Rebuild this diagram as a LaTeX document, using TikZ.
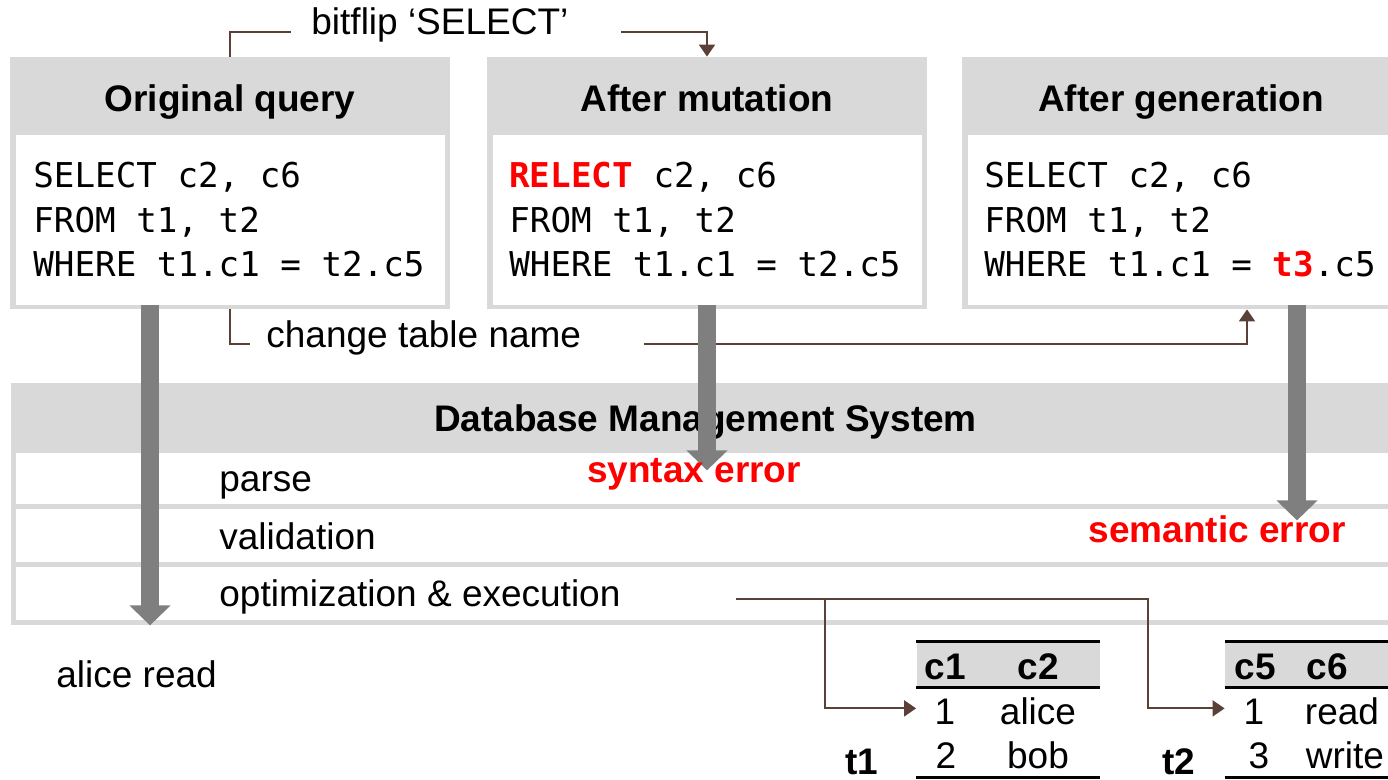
\documentclass[tikz,border=0pt]{standalone}
\usepackage{fontspec}
\setmainfont{Liberation Sans}
\setmonofont{DejaVu Sans Mono}
\usepackage{xcolor}
\usepackage{tikz}
\usetikzlibrary{arrows.meta}
\usetikzlibrary{positioning}
\definecolor{boxgray}{HTML}{D9D9D9}
\definecolor{arrowgray}{HTML}{7F7F7F}
\definecolor{linkbrown}{HTML}{5B4037}
\definecolor{errred}{HTML}{FF0000}
\newcommand{\basefont}{\fontsize{18.5}{22}\selectfont}
\newcommand{\sqlfont}{\fontsize{17.1}{22.25}\selectfont\ttfamily}
\newcommand{\redsql}[1]{{\color{errred}\bfseries #1}}

\begin{document}
\begin{tikzpicture}[
x=0.5pt, y=-0.5pt,
every node/.style={font=\basefont, inner sep=0pt},
QueryFrame/.style={fill=boxgray, minimum width=220pt, minimum height=126pt},
QueryBody/.style={fill=white, minimum width=214.5pt, minimum height=85pt},
DbmsFrame/.style={fill=boxgray, minimum width=694.5pt, minimum height=121pt},
StageRow/.style={fill=white, minimum width=689.5pt},
Heading/.style={font=\basefont\bfseries, anchor=base},
SqlText/.style={font=\sqlfont, anchor=base west, align=left},
Label/.style={anchor=base west},
Link/.style={draw=linkbrown, line width=1pt},
LinkArrow/.style={Link, -{Triangle[length=6pt, width=8pt]}},
FatArrow/.style={draw=arrowgray, line width=9pt, -{Triangle[length=10pt, width=20pt]}},
ErrText/.style={font=\basefont\bfseries, text=errred, anchor=base},
TabHead/.style={fill=boxgray, minimum width=91.75pt, minimum height=22.5pt},
TabRule/.style={draw=black, line width=1.2pt},
Cell/.style={anchor=base},
HeadCell/.style={anchor=base, font=\basefont\bfseries}
]
\useasboundingbox (0,0) rectangle (1388,780);
\clip (0,0) rectangle (1388,780);

% the three queries (base of a SqlText node = last line)
\node[QueryFrame] (orig) at (230,183) {};
\node[QueryBody] (origbody) at (230.5,220) {};
\node[Heading] (origtitle) at (230,112) {Original query};
\node[SqlText] (origsql) at (33,277) {SELECT c2, c6\\FROM t1, t2\\WHERE t1.c1 = t2.c5};

\node[QueryFrame] (mut) at (707,183) {};
\node[QueryBody] (mutbody) at (707.5,220) {};
\node[Heading] (muttitle) at (707,112) {After mutation};
\node[SqlText] (mutsql) at (509,277) {\redsql{RELECT} c2, c6\\FROM t1, t2\\WHERE t1.c1 = t2.c5};

\node[QueryFrame] (gen) at (1182,183) {};
\node[QueryBody] (genbody) at (1182.5,220) {};
\node[Heading] (gentitle) at (1181,112) {After generation};
\node[SqlText] (gensql) at (984,277) {SELECT c2, c6\\FROM t1, t2\\WHERE t1.c1 = \redsql{t3}.c5};

% DBMS with its stages
\node[DbmsFrame] (dbms) at (705.5,504) {};
\node[StageRow, minimum height=25.5pt] (parse) at (705.5,478.5) {};
\node[StageRow, minimum height=26.5pt] (valid) at (705.5,535.5) {};
\node[StageRow, minimum height=26.5pt] (exec) at (705.5,593.5) {};
\node[Heading] (dbmstitle) at (705.5,431.7) {Database Management System};
\node[Label] (parselbl) at (219,491.7) {parse};
\node[Label] (validlbl) at (219,550) {validation};
\node[Label] (execlbl) at (219,606.7) {optimization \& execution};

% mutation / generation links
\coordinate (flipL) at (291,32);
\coordinate (flipR) at (621,32);
\node[Label] (flip) at (311,35) {bitflip ‘SELECT’};
\draw[Link] (orig.north) |- (flipL);
\draw[LinkArrow] (flipR) -| (mut.north);

\coordinate (chgL) at (250,344);
\coordinate (chgR) at (644,344);
\node[Label] (chg) at (266,348) {change table name};
\draw[Link] (orig.south) |- (chgL);
\draw[LinkArrow] (chgR) -| ([xshift=32.5pt]gen.south);

% where each query ends
\draw[FatArrow] ([xshift=-40pt,yshift=2pt]orig.south) -- ([xshift=-40pt]orig.south |- dbms.south);
\draw[FatArrow] ([yshift=2pt]mut.south) -- ([yshift=-80.5pt]mut.south);
\draw[FatArrow] ([xshift=57.5pt,yshift=2pt]gen.south) -- ([xshift=57.5pt,yshift=-105.5pt]gen.south);

\node[ErrText] (syntax) at (694,483) {syntax error};
\node[ErrText] (semantic) at (1217,543) {semantic error};
\node[Label] (result) at (56,688) {alice read};

% tables t1 and t2
\node[TabHead] (t1head) at (1008.25,664.5) {};
\draw[TabRule] (t1head.north west) -- (t1head.north east);
\draw[TabRule] (t1head.south west) -- (t1head.south east);
\draw[TabRule] ([yshift=-45pt]t1head.south west) -- ([yshift=-45pt]t1head.south east);
\node[HeadCell] (t1c1) at (945,679) {c1};
\node[HeadCell] (t1c2) at (1038,679) {c2};
\node[Cell] (t1r1a) at (945,725) {1};
\node[Cell] (t1r1b) at (1038,725) {alice};
\node[Cell] (t1r2a) at (946,768) {2};
\node[Cell] (t1r2b) at (1038,768) {bob};
\node[HeadCell] (t1name) at (862,774) {t1};

\node[TabHead] (t2head) at (1316.75,664.5) {};
\draw[TabRule] (t2head.north west) -- (t2head.north east);
\draw[TabRule] (t2head.south west) -- (t2head.south east);
\draw[TabRule] ([yshift=-45pt]t2head.south west) -- ([yshift=-45pt]t2head.south east);
\node[HeadCell] (t2c5) at (1255,679) {c5};
\node[HeadCell] (t2c6) at (1327,679) {c6};
\node[Cell] (t2r1a) at (1254,725) {1};
\node[Cell] (t2r1b) at (1342,725) {read};
\node[Cell] (t2r2a) at (1259,768) {3};
\node[Cell] (t2r2b) at (1345,768) {write};
\node[HeadCell] (t2name) at (1179,774) {t2};

\coordinate (execR) at (736,599);
\coordinate (t1in) at ([yshift=-10.5pt]t1head.south west);
\coordinate (t2in) at ([yshift=-10.5pt]t2head.south west);
\draw[LinkArrow] (execR) -- ++(89,0) |- (t1in);
\draw[LinkArrow] (execR) -- ++(412,0) |- (t2in);

\end{tikzpicture}
\end{document}
